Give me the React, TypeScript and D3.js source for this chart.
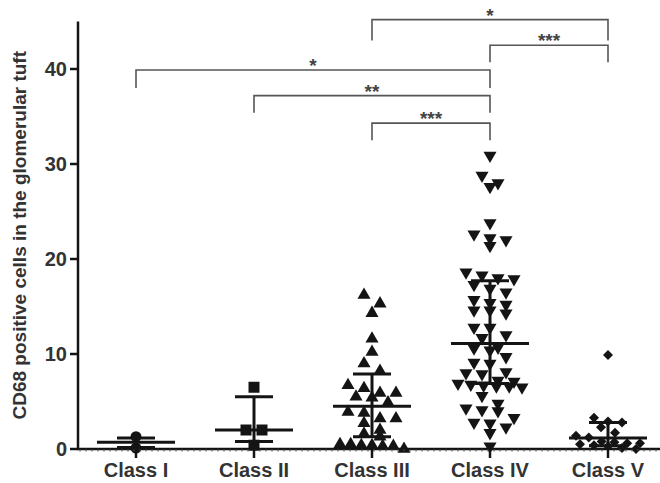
import * as d3 from 'd3';

// Reference values
const categories = ['Class I', 'Class II', 'Class III', 'Class IV', 'Class V'];
const classI = [1.3, 0.1];
const classII = [6.5, 2.0, 2.0, 0.4];
const classIII = [16.2, 15.3, 14.3, 11.6, 10.2, 9.0, 8.2, 6.7, 6.4, 5.9, 5.9, 5.5, 5.4, 4.9, 3.9, 3.8, 3.2, 3.2, 2.7, 2.0, 1.6, 1.3, 0.5, 0.5, 0.4, 0.4, 0.3, 0.3, 0.0];
const classIV = [30.9, 28.8, 28.0, 27.6, 23.8, 22.6, 22.2, 22.0, 21.4, 18.6, 18.3, 18.0, 17.9, 17.3, 16.9, 16.5, 15.7, 15.4, 15.2, 14.6, 14.6, 14.3, 12.8, 12.8, 12.0, 11.7, 10.7, 10.6, 10.4, 9.7, 9.1, 9.0, 8.1, 8.0, 7.9, 7.2, 7.1, 6.9, 6.8, 6.7, 6.6, 6.6, 6.5, 5.6, 4.8, 4.3, 4.1, 4.0, 3.3, 2.8, 2.7, 2.3, 1.7, 0.3];
const classV = [9.9, 3.3, 2.9, 2.8, 2.3, 1.7, 1.4, 1.2, 0.8, 0.7, 0.6, 0.6, 0.5, 0.4, 0.3, 0.1, 0.0];
const seriesValues = [classI, classII, classIII, classIV, classV];
const medians = [0.7, 2.0, 4.5, 11.1, 1.15];
const q1 = [0.15, 0.8, 1.3, 6.9, 0.35];
const q3 = [1.15, 5.5, 7.9, 17.7, 2.8];
const symbolKinds = ['circle', 'square', 'triangleUp', 'triangleDown', 'diamond'];
const yTicks = [0, 10, 20, 30, 40];

const comparisons = [
  { a: 'Class III', b: 'Class V', top: 45.2, foot: 43.0, label: '*' },
  { a: 'Class IV', b: 'Class V', top: 42.5, foot: 40.7, label: '***' },
  { a: 'Class I', b: 'Class IV', top: 39.9, foot: 38.0, label: '*' },
  { a: 'Class II', b: 'Class IV', top: 37.2, foot: 35.4, label: '**' },
  { a: 'Class III', b: 'Class IV', top: 34.3, foot: 32.5, label: '***' },
];

const W = 660;
const H = 483;
const INK = '#141414';
const FONT = '"Liberation Sans", Arial, sans-serif';

const y = d3.scaleLinear([0, 45], [449, 21.5]);
const x = d3.scalePoint<string>(categories, [136, 608]);

// GraphPad-like row layout: bin by pixel height, spread each row symmetrically
function layoutRows(values: number[], binH = 10, spacing = 16, maxW = 64) {
  const sorted = [...values].sort((a, b) => b - a);
  const out: { v: number; dx: number }[] = [];
  let i = 0;
  while (i < sorted.length) {
    const start = y(sorted[i]);
    const row: number[] = [];
    while (i < sorted.length && y(sorted[i]) - start < binH) { row.push(sorted[i]); i++; }
    const n = row.length;
    const sp = n > 1 ? Math.min(spacing, maxW / (n - 1)) : 0;
    row.forEach((v, k) => out.push({ v, dx: (k - (n - 1) / 2) * sp }));
  }
  return out;
}

const symbolPath = (kind: string) => {
  if (kind === 'circle') return d3.symbol(d3.symbolCircle, 95)()!;
  if (kind === 'square') return d3.symbol(d3.symbolSquare, 121)()!;
  if (kind === 'diamond') return d3.symbol(d3.symbolSquare, 50)()!;
  return d3.symbol(d3.symbolTriangle, 74)()!;
};
const symbolRot = (kind: string) => (kind === 'triangleDown' ? 180 : kind === 'diamond' ? 45 : 0);

export default function App() {
  const minorTicks = d3.range(80, W, 6);
  return (
    <svg width={W} height={H} style={{ position: 'absolute', left: 0, top: 0, background: '#fff' }}>
      {/* brackets */}
      {comparisons.map((c, i) => {
        const x1 = x(c.a)!, x2 = x(c.b)!;
        return (
          <g key={i}>
            <path d={`M${x1},${y(c.foot)}V${y(c.top)}H${x2}V${y(c.foot)}`} fill="none" stroke="#555" strokeWidth={1.6} />
            <text x={(x1 + x2) / 2} y={y(c.top) + 2} textAnchor="middle" fontFamily={FONT} fontSize={19} fontWeight="bold" fill="#444">{c.label}</text>
          </g>
        );
      })}

      {/* points */}
      {seriesValues.map((vals, ci) => {
        const cx = x(categories[ci])!;
        const kind = symbolKinds[ci];
        const d = symbolPath(kind);
        return layoutRows(vals, ci === 4 ? 8 : 10, ci === 4 ? 14 : 16).map((p, k) => (
          <path key={`${ci}-${k}`} d={d} fill={INK}
            transform={`translate(${cx + p.dx},${y(p.v)}) rotate(${symbolRot(kind)})`} />
        ));
      })}

      {/* median + interquartile range */}
      {categories.map((c, ci) => {
        const cx = x(c)!;
        return (
          <g key={c} stroke={INK} strokeWidth={3}>
            <line x1={cx} x2={cx} y1={y(q1[ci])} y2={y(q3[ci])} />
            <line x1={cx - 39} x2={cx + 39} y1={y(medians[ci])} y2={y(medians[ci])} />
            <line x1={cx - 19} x2={cx + 19} y1={y(q1[ci])} y2={y(q1[ci])} />
            <line x1={cx - 19} x2={cx + 19} y1={y(q3[ci])} y2={y(q3[ci])} />
          </g>
        );
      })}

      {/* y axis */}
      <line x1={78} x2={78} y1={y(45)} y2={y(0) + 1} stroke={INK} strokeWidth={2.5} />
      {yTicks.map(t => (
        <g key={t}>
          <line x1={70} x2={78} y1={y(t)} y2={y(t)} stroke={INK} strokeWidth={2.5} />
          <text x={67} y={y(t)} dy="0.36em" textAnchor="end" fontFamily={FONT} fontSize={20} fontWeight="bold" fill="#333">{t}</text>
        </g>
      ))}
      <text transform={`translate(26,${(y(0) + y(45)) / 2}) rotate(-90)`} textAnchor="middle" fontFamily={FONT} fontSize={19} fontWeight="bold" fill="#333">
        CD68 positive cells in the glomerular tuft
      </text>

      {/* x axis */}
      <line x1={77} x2={W} y1={y(0)} y2={y(0)} stroke={INK} strokeWidth={2.5} />
      {minorTicks.map(m => (
        <line key={m} x1={m} x2={m} y1={y(0)} y2={y(0) + 2.5} stroke="#444" strokeWidth={1} />
      ))}
      {categories.map(c => (
        <g key={c}>
          <line x1={x(c)!} x2={x(c)!} y1={y(0)} y2={y(0) + 9} stroke={INK} strokeWidth={2.5} />
          <text x={x(c)!} y={477} textAnchor="middle" fontFamily={FONT} fontSize={20} fontWeight="bold" fill="#333">{c}</text>
        </g>
      ))}
    </svg>
  );
}
